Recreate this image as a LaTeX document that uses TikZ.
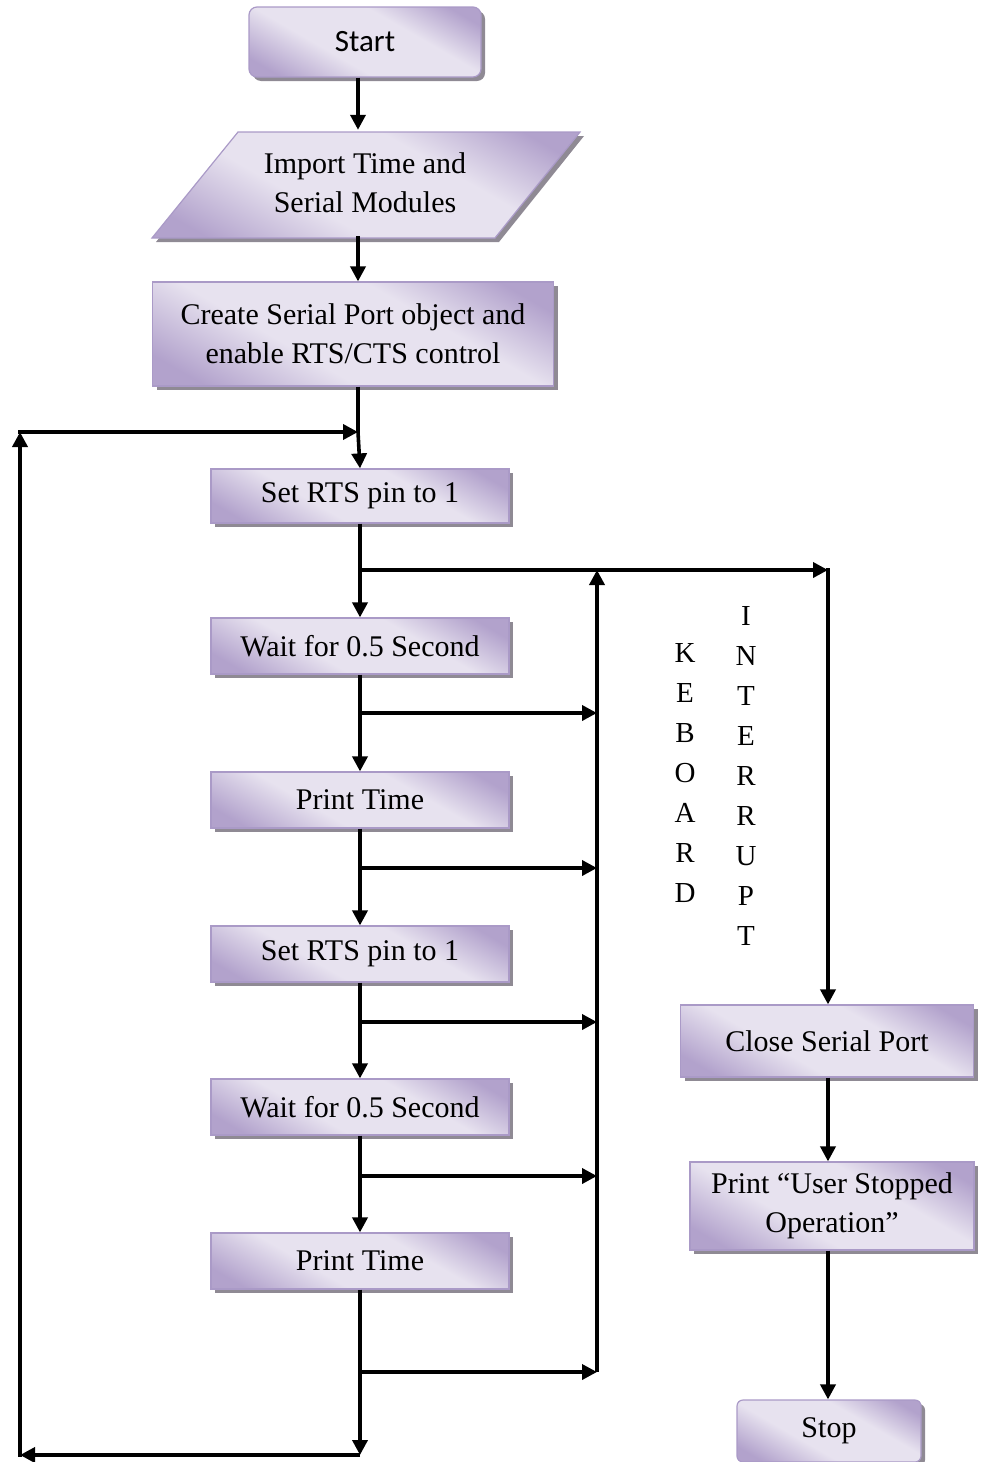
\documentclass[tikz,border=0pt]{standalone}
\usepackage{fontspec}
\setmainfont{Liberation Serif}
\newfontfamily\startfont{Carlito}
\usetikzlibrary{arrows.meta,shadows,calc}
\definecolor{pdark}{HTML}{B2A2CC}
\definecolor{plight}{HTML}{E7E2EF}
\definecolor{pborder}{HTML}{AA9AC7}
\definecolor{shadowgray}{HTML}{8F8A94}
\pgfdeclarehorizontalshading{boxshade}{100bp}{color(0bp)=(pdark); color(22bp)=(pdark); color(40bp)=(plight); color(62bp)=(plight); color(78bp)=(pdark); color(100bp)=(pdark)}
\tikzset{
  fbox/.style={draw=pborder, line width=1.2pt, shading=boxshade, shading angle=60,
    drop shadow={shadow xshift=4pt, shadow yshift=-4pt, fill=shadowgray, opacity=1},
    font=\fontsize{30}{39}\selectfont, align=center, inner sep=0pt},
  txt/.style={font=\fontsize{30}{39}\selectfont, align=center, inner sep=0pt},
  vtxt/.style={font=\fontsize{29}{40}\selectfont, align=center, inner sep=0pt},
  arr/.style={line width=3.6pt, -{Triangle[length=15pt,width=15pt]}},
  ln/.style={line width=3.6pt}
}
\begin{document}
\begin{tikzpicture}[x=1pt,y=-1pt]
\useasboundingbox (0,0) rectangle (982,1462);
% boxes
\node[fbox, rounded corners=8pt, minimum width=232pt, minimum height=70pt, font=\startfont\fontsize{31}{34}\selectfont] (start) at (365,42) {Start};
\path[draw=pborder, line width=1.2pt, shading=boxshade, shading angle=60,
    drop shadow={shadow xshift=4pt, shadow yshift=-4pt, fill=shadowgray, opacity=1}]
    (152,238) -- (238,132) -- (580,132) -- (495,238) -- cycle;
\node[txt, minimum height=106pt, minimum width=200pt] (imp) at (365,183) {Import Time and\\Serial Modules};
\node[fbox, minimum width=401pt, minimum height=104pt] (create) at (353,334) {Create Serial Port object and\\enable RTS/CTS control};
\node[fbox, minimum width=298pt, minimum height=54pt] (set1) at (360,496) {Set RTS pin to 1};
\node[fbox, minimum width=298pt, minimum height=56pt] (wait1) at (360,646) {Wait for 0.5 Second};
\node[fbox, minimum width=298pt, minimum height=56pt] (print1) at (360,800) {Print Time};
\node[fbox, minimum width=298pt, minimum height=56pt] (set2) at (360,954) {Set RTS pin to 1};
\node[fbox, minimum width=298pt, minimum height=56pt] (wait2) at (360,1107) {Wait for 0.5 Second};
\node[fbox, minimum width=298pt, minimum height=56pt] (print2) at (360,1261) {Print Time};
\node[fbox, minimum width=293pt, minimum height=72pt] (close) at (827,1041) {Close Serial Port};
\node[fbox, minimum width=284pt, minimum height=88pt] (user) at (832,1206) {Print \textquotedblleft User Stopped\\Operation\textquotedblright};
\node[fbox, rounded corners=6pt, minimum width=184pt, minimum height=62pt] (stop) at (829,1431) {Stop};
% vertical labels
\node[vtxt] (kb) at (685,773) {K\\E\\B\\O\\A\\R\\D};
\node[vtxt] (ir) at (746,776) {I\\N\\T\\E\\R\\R\\U\\P\\T};
% coordinates
\coordinate (cx) at (358,0);
\coordinate (lt) at (20,432);
\coordinate (lb) at (20,1455);
\coordinate (mt) at (358,432);
\coordinate (mb) at (360,1455);
\coordinate (j0) at (360,570);
\coordinate (k0) at (828,570);
\coordinate (r0) at (597,570);
\coordinate (j1) at (360,713);  \coordinate (r1) at (597,713);
\coordinate (j2) at (360,868);  \coordinate (r2) at (597,868);
\coordinate (j3) at (360,1022); \coordinate (r3) at (597,1022);
\coordinate (j4) at (360,1176); \coordinate (r4) at (597,1176);
\coordinate (j5) at (360,1372); \coordinate (r5) at (597,1372);
% main flow
\draw[arr] (start.south -| cx) -- (imp.north -| cx);
\draw[arr] (imp.south -| cx) -- (create.north -| cx);
\draw[ln] (create.south -| mt) -- (mt);
\draw[arr] (mt) -- (set1.north);
\draw[arr] (set1.south) -- (wait1.north);
\draw[arr] (wait1.south) -- (print1.north);
\draw[arr] (print1.south) -- (set2.north);
\draw[arr] (set2.south) -- (wait2.north);
\draw[arr] (wait2.south) -- (print2.north);
\draw[arr] (print2.south) -- (mb);
% loop back
\draw[arr] (mb) -- (lb);
\draw[arr] ([yshift=-1.8pt]lb) -- (lt);
\draw[arr] ([xshift=-1.8pt]lt) -- (mt);
% interrupt branches
\draw[arr] (j0) -- (k0);
\draw[arr] (r5) -- (r0);
\draw[arr] (j1) -- (r1);
\draw[arr] (j2) -- (r2);
\draw[arr] (j3) -- (r3);
\draw[arr] (j4) -- (r4);
\draw[arr] (j5) -- (r5);
\draw[arr] ([yshift=1.8pt]k0) -- (close.north -| k0);
\draw[arr] (close.south -| k0) -- (user.north -| k0);
\draw[arr] (user.south -| k0) -- (stop.north -| k0);
\end{tikzpicture}
\end{document}
